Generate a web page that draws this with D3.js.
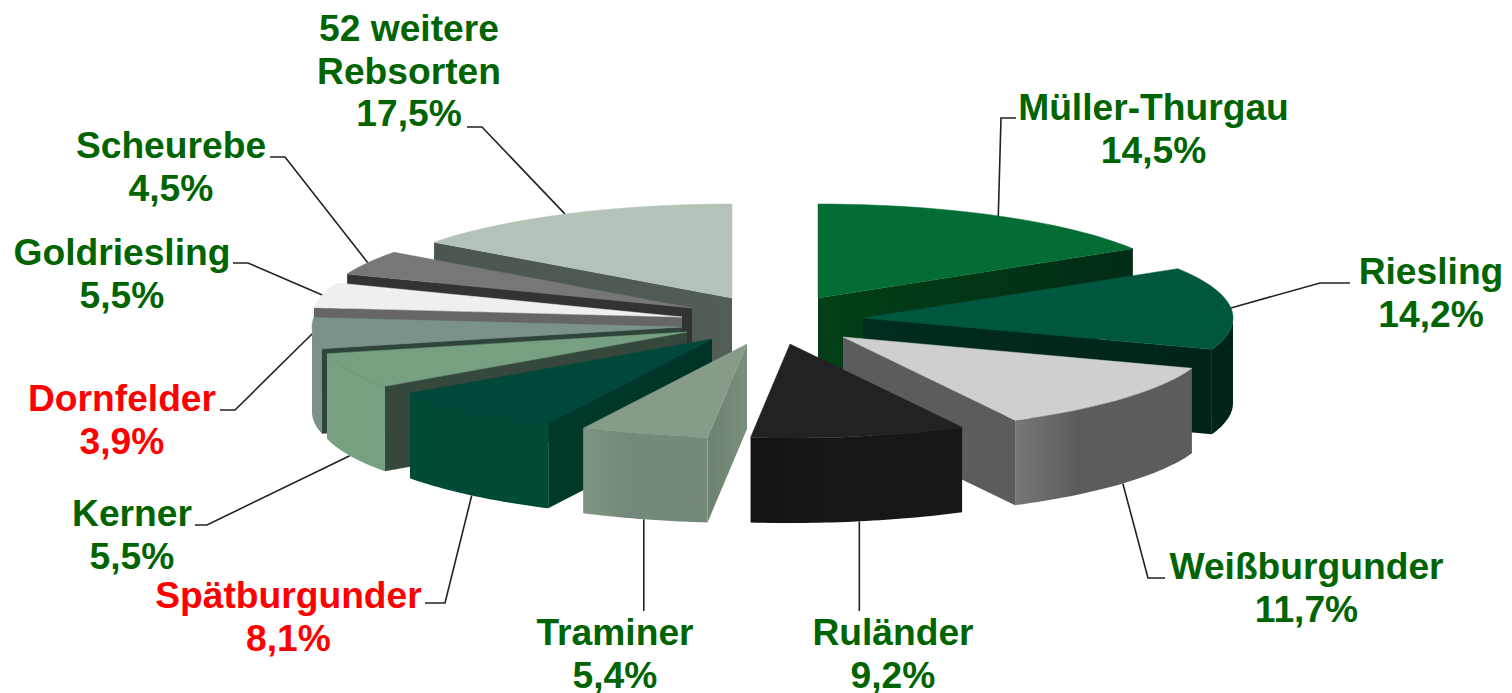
<!DOCTYPE html>
<html>
<head>
<meta charset="utf-8">
<style>
html,body{margin:0;padding:0;background:#fff;overflow:hidden}
text{font-family:"Liberation Sans",Arial,sans-serif;font-weight:700;font-size:37.2px;text-anchor:middle}
</style>
<script src="https://cdn.jsdelivr.net/npm/d3@7/dist/d3.min.js"></script>
</head>
<body>
<svg id="c" width="1512" height="693"></svg>
<script>
// ---- data ----
const categories = ["Müller-Thurgau","Riesling","Weißburgunder","Ruländer","Traminer","Spätburgunder","Kerner","Dornfelder","Goldriesling","Scheurebe","52 weitere Rebsorten"];
const labelLines = [["Müller-Thurgau"],["Riesling"],["Weißburgunder"],["Ruländer"],["Traminer"],["Spätburgunder"],["Kerner"],["Dornfelder"],["Goldriesling"],["Scheurebe"],["52 weitere","Rebsorten"]];
const labelledShare = [14.5,14.2,11.7,9.2,5.4,8.1,5.5,3.9,5.5,4.5,17.5];
// the slices are not drawn true to their labels: these are the sizes as drawn
const drawnShare = [16.2,14.2,11.9,9.4,5.6,7.9,6.1,5.3,4.3,4.2,14.9];

// ---- styles ----
const topColor  = ["#046c35","#00573f","#cfcfcf","#222222","#869c88","#00493a","#77a082","#7a928a","#efefef","#777777","#b3c3b7"];
const faceNear  = ["#033f18","#012c20","#5c5c5c","#151515","#6c8170","#003a2b","#36483c","#2f443a","#666666","#333333","#4b574e"];
const faceFar   = ["#012c15","#01241a","#5c5c5c","#151515","#7a8f7e","#003226","#36483c","#2f443a","#666666","#333333","#525e55"];
const rimLeft   = ["#012c15","#01241a","#787878","#131313","#7f9482","#004a38","#77a082","#7a928a","#888888","#555555","#4b574e"];
const rimRight  = ["#012c15","#01241a","#5c5c5c","#171717","#75897a","#004a38","#77a082","#7a928a","#888888","#555555","#4b574e"];
const labelColor = ["#006400","#006400","#006400","#006400","#006400","#ff0000","#006400","#ff0000","#006400","#006400","#006400"];

// ---- layout ----
const centre = {x:770, y:320};
const explodeX = [48,93,73,20,-23,-58,-83,-88,-88,-78,-38];
const explodeY = [-22,-2,17,24,24,19,12,7,-3,-12,-22];
const rx = 370, ry = 94, depth = 85;
const drawOrder = [0,1,2,3,10,9,8,7,6,5,4];
const labelX = [1153.5,1431,1306.5,893,615,288.5,132,122,122,171,409];
const labelY = [107,271,566,632,632,595,513,398,252,145,28];
const lineGap = 42.5;
const elbowX = [1001,1320,1148,null,null,445,207,235,248,285,482];
const elbowY = [118,283,578,611,611,603,525,410,263,157,127];
const tailX  = [1016,1350,1165,null,null,425,195,220,233,270,467];

const svg = d3.select("#c");
const defs = svg.append("defs");

const pie = d3.pie().sort(null).value(d=>d);
const arcs = pie(drawnShare);
const sx = d3.scaleLinear().domain([-1,1]).range([-rx,rx]);
const sy = d3.scaleLinear().domain([-1,1]).range([-ry,ry]);
const pt = (i,t,z=0)=>[
  centre.x+explodeX[i]+sx(Math.sin(t)),
  centre.y+explodeY[i]+sy(-Math.cos(t))+z
];
const apex = (i,z=0)=>[centre.x+explodeX[i],centre.y+explodeY[i]+z];
const line = d3.line();
const arcPts = (i,a,b,z=0)=>d3.range(0,33).map(k=>pt(i,a+(b-a)*k/32,z));

function grad(id,c1,c2,stopAt){
  const g = defs.append("linearGradient").attr("id",id).attr("x1",0).attr("x2",1).attr("y1",0).attr("y2",0);
  g.append("stop").attr("offset","0%").attr("stop-color",c1);
  g.append("stop").attr("offset",stopAt).attr("stop-color",c2);
  return `url(#${id})`;
}

// leader lines, from the slice's mid angle
const leaders = svg.append("g").attr("fill","none").attr("stroke","#222").attr("stroke-width",1.6);
categories.forEach((c,i)=>{
  const t = (arcs[i].startAngle+arcs[i].endAngle)/2;
  const front = t>Math.PI/2 && t<Math.PI*1.45;
  const s = pt(i,t,front?depth:0);
  const pts = [s];
  const ex = elbowX[i]===null ? s[0] : elbowX[i];
  pts.push([ex,elbowY[i]]);
  if(tailX[i]!==null) pts.push([tailX[i],elbowY[i]]);
  leaders.append("path").attr("d",line(pts));
});

// slices, painted back to front
const slices = svg.append("g");
drawOrder.forEach(i=>{
  const a = arcs[i].startAngle, b = arcs[i].endAngle;
  const g = slices.append("g").attr("data-name",categories[i]);
  const fFill = grad("f"+i,faceNear[i],faceFar[i],"100%");
  const rFill = grad("r"+i,rimLeft[i],rimRight[i],"35%");
  const face = t => [apex(i),pt(i,t),pt(i,t,depth),apex(i,depth)];
  if(Math.sin(b)>0) g.append("path").attr("d",line(face(b))+"Z").attr("fill",fFill);
  if(Math.sin(a)<0) g.append("path").attr("d",line(face(a))+"Z").attr("fill",fFill);
  const lo = Math.max(a,Math.PI/2), hi = Math.min(b,Math.PI*1.5);
  if(hi>lo){
    g.append("path").attr("d",line(arcPts(i,lo,hi).concat(arcPts(i,hi,lo,depth)))+"Z").attr("fill",rFill);
  }
  g.append("path").attr("d",line([apex(i)].concat(arcPts(i,a,b)))+"Z")
    .attr("fill",topColor[i]).attr("stroke",topColor[i]).attr("stroke-width",0.5);
});

// labels
const fmt = v=>d3.format(".1f")(v).replace(".",",")+"%";
const labels = svg.append("g");
categories.forEach((c,i)=>{
  const lines = labelLines[i].concat([fmt(labelledShare[i])]);
  lines.forEach((s,k)=>{
    labels.append("text").attr("x",labelX[i]).attr("y",labelY[i]+k*lineGap+13)
      .attr("fill",labelColor[i]).text(s);
  });
});
</script>
</body>
</html>
